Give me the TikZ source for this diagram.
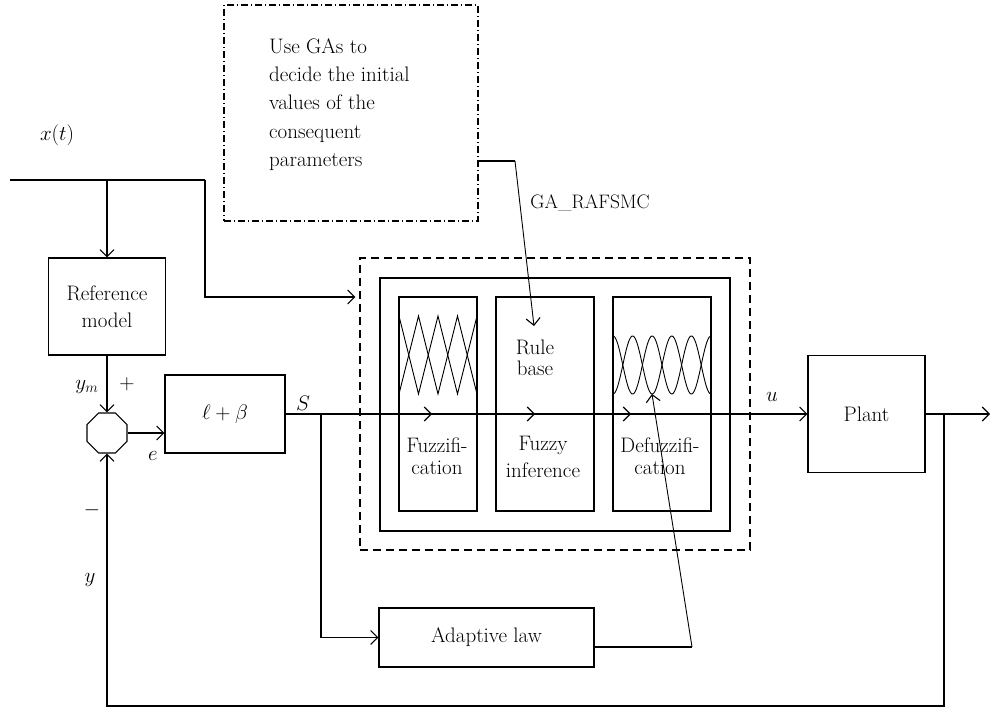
\RequirePackage{fix-cm}
\documentclass[tikz,border=0pt]{standalone}
\usepackage{fontspec}
\usetikzlibrary{arrows.meta,shapes.geometric,calc}
\begin{document}
\begin{tikzpicture}[x=1pt,y=-1pt,
  every node/.style={font=\fontsize{21}{27}\selectfont},
  blk/.style={draw,line width=1.1pt,inner sep=0pt,align=center},
  ln/.style={line width=1.1pt},
  arr/.style={line width=1.1pt,-{Straight Barb[length=7pt,width=14pt,line width=1.1pt]}},
  tip/.style={line width=1.1pt,-{Straight Barb[length=7pt,width=14pt,line width=1.1pt]}},
  thin/.style={line width=0.9pt},
  lbl/.style={inner sep=0pt}]
\useasboundingbox (0,0) rectangle (990,711);

% GA box
\node[blk,dash pattern=on 7pt off 3pt on 1pt off 3pt,minimum width=254pt,minimum height=216pt] (ga) at (351,113) {};
\node[lbl,anchor=west,align=left,font=\fontsize{21}{28.25}\selectfont] (gatext) at (269,104.5)
  {Use GAs to\\decide the initial\\values of the\\consequent\\parameters};

% blocks
\node[blk,minimum width=117pt,minimum height=97pt] (ref) at (107,306.5) {Reference\\model};
\node[blk,regular polygon,regular polygon sides=8,minimum size=43.3pt] (sum) at (107,433) {};
\node[blk,minimum width=120pt,minimum height=78pt] (lb) at (225,414) {$\ell+\beta$};
\node[draw,line width=1.1pt,dash pattern=on 8pt off 5pt,minimum width=390pt,minimum height=292pt,inner sep=0pt] (ctrl) at (555,404) {};
\node[blk,minimum width=350pt,minimum height=253pt] (outer) at (555,404.5) {};
\node[blk,minimum width=78pt,minimum height=214pt] (fuzz) at (438,404) {};
\node[blk,minimum width=98pt,minimum height=214pt] (inf) at (545,404) {};
\node[blk,minimum width=98pt,minimum height=214pt] (defz) at (662,404) {};
\node[blk,minimum width=117pt,minimum height=117pt] (plant) at (866.5,414) {Plant};
\node[blk,minimum width=215pt,minimum height=59pt] (adapt) at (486.5,637.5) {Adaptive law};

% texts inside the fuzzy blocks
\node[lbl,align=center,font=\fontsize{21}{22}\selectfont] (tfz) at (437,456) {Fuzzifi-\\cation};
\node[lbl,align=center] (tinf) at (543,456.5) {Fuzzy\\inference};
\node[lbl,align=center,font=\fontsize{21}{22}\selectfont] (tdf) at (660,456) {Defuzzifi-\\cation};
\node[lbl,align=center,font=\fontsize{21}{21}\selectfont] (trb) at (535,357.5) {Rule\\base};

% membership functions
\draw[thin] (399,316) -- (418.5,394) -- (438,316) -- (457.5,394) -- (477,316);
\draw[thin] (399,394) -- (418.5,316) -- (438,394) -- (457.5,316) -- (477,394);
\draw[thin,samples=120,domain=0:98] plot ({613+\x},{365+29*cos(9.18367*\x)});
\draw[thin,samples=120,domain=0:98] plot ({613+\x},{365-29*cos(9.18367*\x)});

% coordinates
\coordinate (xin) at (10,180);
\coordinate (xc) at (205,180);
\coordinate (y297) at (0,297);
\coordinate (y647) at (0,647);
\coordinate (y161) at (0,161);
\coordinate (y706) at (0,706);
\coordinate (out) at (990,414);
\coordinate (sb) at (321,414);
\coordinate (fb) at (944,414);
\coordinate (gac) at (515,161);
\coordinate (rbt) at (534,326);
\coordinate (adc) at (692,647);
\coordinate (dft) at (652,394);

% connectors
\draw[ln] (xin) -- (xc);
\draw[arr] (xc) |- ($(ctrl.west |- y297)+(-4,0)$);
\draw[arr] (ref.north |- xin) -- (ref.north);
\draw[arr] (ref.south) -- (sum.north);
\draw[arr] (sum.east) -- (sum.east -| lb.west);
\draw[arr] (lb.east) -- (plant.west);
\draw[arr] (plant.east) -- (out);
\draw[arr] (fb) -- (fb |- y706) -- (sum.south |- y706) -- (sum.south);
\draw[arr] (sb) |- (adapt.west);
\draw[ln] (adapt.east |- y647) -- (adc);
\draw[tip,line width=0.9pt] (adc) -- (dft);
\draw[ln] (ga.east |- y161) -- (gac);
\draw[tip,line width=0.9pt] (gac) -- (rbt);

% arrows along the signal line
\draw[tip] (424,414) -- (432,414);
\draw[tip] (527,414) -- (535,414);
\draw[tip] (623,414) -- (631,414);

% labels
\node[lbl] (lx) at (57,135) {$x(t)$};
\node[lbl] (lym) at (87,387) {$y_m$};
\node[lbl] (lp) at (127,384) {$+$};
\node[lbl] (le) at (153,456) {$e$};
\node[lbl] (lS) at (303,403) {$S$};
\node[lbl] (lu) at (772,397) {$u$};
\node[lbl] (lm) at (92,510) {$-$};
\node[lbl] (ly) at (90,580) {$y$};
\node[lbl,font=\fontsize{19.5}{24}\selectfont] (lga) at (590,203) {GA\_RAFSMC};
\end{tikzpicture}
\end{document}
